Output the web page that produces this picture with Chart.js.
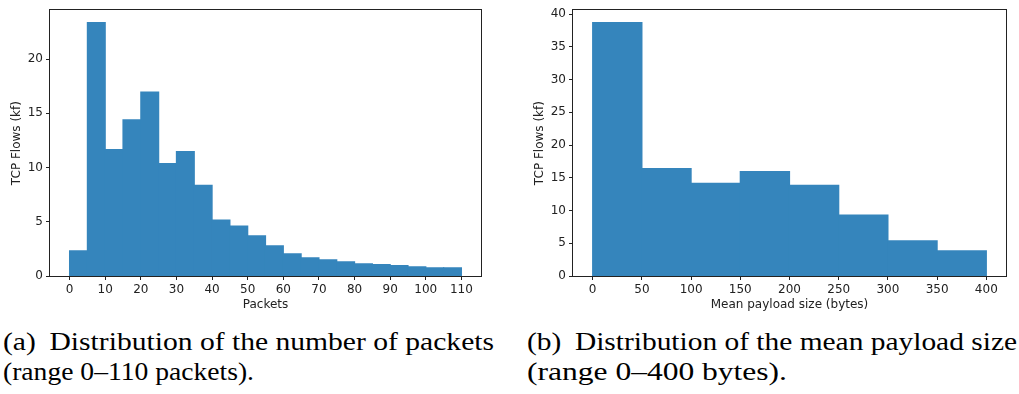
<!DOCTYPE html>
<html>
<head>
<meta charset="utf-8">
<script src="https://cdn.jsdelivr.net/npm/chart.js@4.4.1/dist/chart.umd.min.js"></script>
<style>
  html, body { margin: 0; padding: 0; background: #fff; }
  body { width: 1019px; height: 394px; position: relative; overflow: hidden; }
  .plot { position: absolute; top: 0; }
  .cap { position: absolute; font-family: "Liberation Serif", serif; font-size: 26px; line-height: 30px; color: #000; white-space: nowrap; }
  .cap .ln { display: block; transform-origin: 0 0; width: max-content; }
  .cap .lab { margin-right: 12px; }
</style>
</head>
<body>
<div class="plot" style="left:0"><canvas id="packets" width="500" height="320"></canvas></div>
<div class="plot" style="left:510px"><canvas id="payload" width="509" height="320"></canvas></div>
<div class="cap" style="left:3px; top:327px">
  <span class="ln" data-w="491"><span class="lab">(a)</span>Distribution of the number of packets</span>
  <span class="ln" data-w="251">(range 0–110 packets).</span>
</div>
<div class="cap" style="left:527px; top:327px">
  <span class="ln" data-w="490"><span class="lab">(b)</span>Distribution of the mean payload size</span>
  <span class="ln" data-w="260">(range 0–400 bytes).</span>
</div>
<script>
// histogram (a): flows per packet-count bin, in thousands
const packetBinStarts = [0, 5, 10, 15, 20, 25, 30, 35, 40, 45, 50, 55, 60, 65, 70, 75, 80, 85, 90, 95, 100, 105];
const packetFlows = [2.32, 23.35, 11.65, 14.39, 16.95, 10.37, 11.46, 8.35, 5.15, 4.60, 3.69, 2.77, 2.04, 1.68, 1.49, 1.31, 1.13, 1.04, 0.95, 0.85, 0.76, 0.76];
const packetXTicks = [0, 10, 20, 30, 40, 50, 60, 70, 80, 90, 100, 110];
const packetYTicks = [0, 5, 10, 15, 20];

// histogram (b): flows per mean payload size bin, in thousands
const payloadBinStarts = [0, 50, 100, 150, 200, 250, 300, 350];
const payloadFlows = [38.69, 16.41, 14.14, 15.96, 13.84, 9.29, 5.35, 3.84];
const payloadXTicks = [0, 50, 100, 150, 200, 250, 300, 350, 400];
const payloadYTicks = [0, 5, 10, 15, 20, 25, 30, 35, 40];

const BAR = 'rgb(53,133,188)';
const INK = '#222';
const tickFont = { family: 'DejaVu Sans', size: 12 };

// caption lines are squeezed/stretched to the column width
document.querySelectorAll('.cap .ln').forEach(el => {
  const k = +el.dataset.w / el.getBoundingClientRect().width;
  el.style.transform = 'scaleX(' + k + ')';
});

// full box around the plot area, like matplotlib spines
const frame = {
  id: 'frame',
  afterDatasetsDraw(chart) {
    const a = chart.chartArea, c = chart.ctx;
    c.save();
    c.strokeStyle = INK;
    c.lineWidth = 1;
    c.strokeRect(Math.round(a.left) - 0.5, Math.round(a.top) - 0.5,
                 Math.round(a.right - a.left) + 1, Math.round(a.bottom - a.top) + 1);
    c.restore();
  }
};

function hist(id, o) {
  const w = o.starts[1] - o.starts[0];
  const pts = o.starts.map((s, i) => ({ x: s + w / 2, y: o.values[i] }));
  return new Chart(document.getElementById(id), {
    type: 'bar',
    data: { datasets: [{ data: pts, backgroundColor: BAR, borderWidth: 0, inflateAmount: 0.6,
                         barPercentage: 1, categoryPercentage: 1 }] },
    options: {
      responsive: false,
      animation: false,
      devicePixelRatio: 1,
      layout: { padding: o.pad },
      plugins: { legend: { display: false }, tooltip: { enabled: false } },
      scales: {
        x: {
          type: 'linear', min: o.xMin, max: o.xMax, offset: false,
          afterBuildTicks: s => { s.ticks = o.xTicks.map(v => ({ value: v })); },
          afterFit: s => { s.height = 44; },
          grid: { offset: false, drawOnChartArea: false, tickLength: 4, tickColor: INK },
          border: { display: false },
          ticks: { font: tickFont, color: INK, padding: 3, maxRotation: 0, autoSkip: false },
          title: { display: true, text: o.xTitle, font: tickFont, color: INK, padding: { bottom: 8 } }
        },
        y: {
          min: 0, max: o.yMax,
          afterBuildTicks: s => { s.ticks = o.yTicks.map(v => ({ value: v })); },
          afterFit: s => { s.width = o.yWidth; },
          grid: { drawOnChartArea: false, tickLength: 4, tickColor: INK },
          border: { display: false },
          ticks: { font: tickFont, color: INK, padding: 3 },
          title: { display: true, text: 'TCP Flows (kf)', font: tickFont, color: INK, padding: { top: o.titlePad } }
        }
      }
    },
    plugins: [frame]
  });
}

hist('packets', {
  starts: packetBinStarts, values: packetFlows, xTicks: packetXTicks, yTicks: packetYTicks,
  xMin: -5.5, xMax: 115.5, yMax: 24.5, xTitle: 'Packets',
  pad: { left: 0, top: 8, right: 19, bottom: 0 }, yWidth: 50, titlePad: 10
});

hist('payload', {
  starts: payloadBinStarts, values: payloadFlows, xTicks: payloadXTicks, yTicks: payloadYTicks,
  xMin: -20, xMax: 420, yMax: 40.6, xTitle: 'Mean payload size (bytes)',
  pad: { left: 0, top: 9, right: 13, bottom: 0 }, yWidth: 63, titlePad: 23
});
</script>
</body>
</html>
